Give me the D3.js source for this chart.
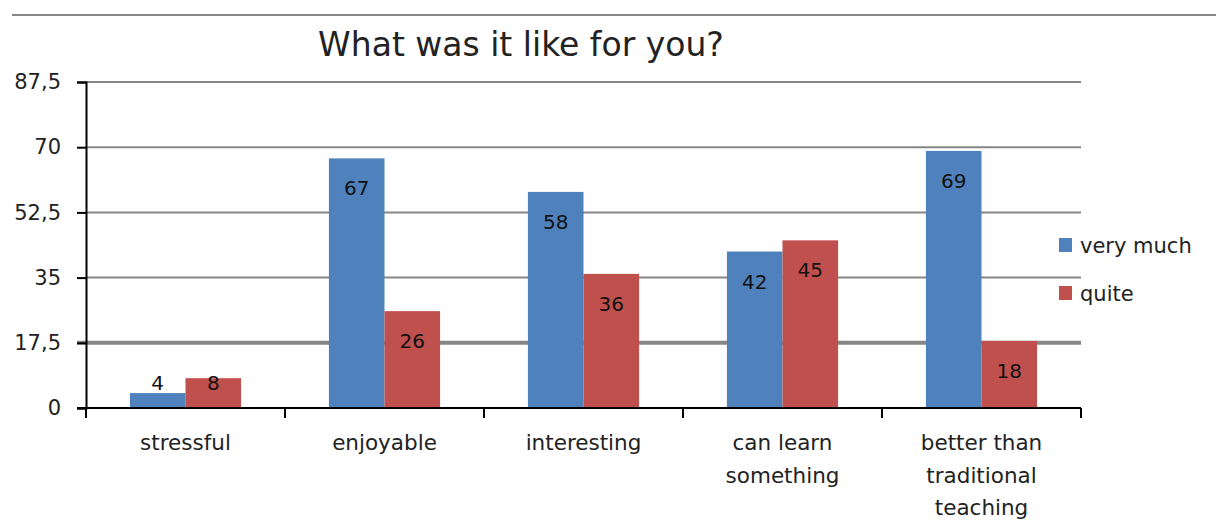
<!DOCTYPE html>
<html>
<head>
<meta charset="utf-8">
<script src="https://cdn.jsdelivr.net/npm/d3@7/dist/d3.min.js"></script>
<style>
  html, body { margin: 0; padding: 0; background: #fff; }
  svg { display: block; }
</style>
</head>
<body>
<div id="chart"></div>
<script>
// Chart data
const categories = ['stressful', 'enjoyable', 'interesting', 'can learn something', 'better than traditional teaching'];
const categoryLines = [['stressful'], ['enjoyable'], ['interesting'], ['can learn', 'something'], ['better than', 'traditional', 'teaching']];
const seriesNames = ['very much', 'quite'];
const veryMuch = [4, 67, 58, 42, 69];
const quite = [8, 26, 36, 45, 18];
const yTicks = [0, 17.5, 35, 52.5, 70, 87.5];
const yTickLabels = ['0', '17,5', '35', '52,5', '70', '87,5'];
const colors = ['#4f81bd', '#c0504d'];

const W = 1216, H = 523;
const FONT = "'DejaVu Sans', sans-serif";
const margin = { left: 86, top: 82, right: 1081, bottom: 408 };

const svg = d3.select('#chart').append('svg')
    .attr('width', W)
    .attr('height', H);

// top border line from the sheet
svg.append('line')
    .attr('x1', 12).attr('x2', W)
    .attr('y1', 15).attr('y2', 15)
    .attr('stroke', '#868686')
    .attr('stroke-width', 2);

const x = d3.scaleBand()
    .domain(categories)
    .range([margin.left, margin.right]);

// two bars take ~57% of each category band
const x1 = d3.scaleBand()
    .domain(seriesNames)
    .range([0, x.bandwidth()])
    .paddingOuter(0.79)
    .paddingInner(0);

const y = d3.scaleLinear()
    .domain([0, 87.5])
    .range([margin.bottom, margin.top]);

// gridlines
svg.append('g')
    .selectAll('line')
    .data(yTicks.filter(d => d > 0))
    .join('line')
    .attr('x1', d => d === 17.5 ? margin.left - 9 : margin.left)
    .attr('x2', margin.right)
    .attr('y1', d => y(d)).attr('y2', d => y(d))
    .attr('stroke', '#868686')
    .attr('stroke-width', d => d === 17.5 ? 4 : 2);

// y axis
const yAxis = svg.append('g')
    .attr('transform', `translate(${margin.left},0)`)
    .call(d3.axisLeft(y)
        .tickValues(yTicks)
        .tickFormat((d, i) => yTickLabels[i])
        .tickSize(9)
        .tickPadding(16));
yAxis.select('.domain').attr('stroke', '#000').attr('stroke-width', 2);
yAxis.selectAll('.tick line').attr('stroke', '#000').attr('stroke-width', 2);
yAxis.selectAll('.tick text')
    .attr('font-family', FONT)
    .attr('font-size', '21px')
    .attr('fill', '#222');

// bars
const series = [veryMuch, quite];
const groups = svg.append('g')
    .selectAll('g')
    .data(categories)
    .join('g')
    .attr('transform', d => `translate(${x(d)},0)`);

groups.selectAll('rect')
    .data((d, i) => seriesNames.map((s, k) => ({ s, k, v: series[k][i] })))
    .join('rect')
    .attr('x', d => x1(d.s))
    .attr('width', x1.bandwidth())
    .attr('y', d => y(d.v))
    .attr('height', d => y(0) - y(d.v))
    .attr('fill', d => colors[d.k]);

// data labels (inside end, kept above the axis for short bars)
groups.selectAll('text.val')
    .data((d, i) => seriesNames.map((s, k) => ({ s, k, v: series[k][i] })))
    .join('text')
    .attr('class', 'val')
    .attr('x', d => x1(d.s) + x1.bandwidth() / 2)
    .attr('y', d => Math.min(y(d.v) + 30, y(0) - 25))
    .attr('dy', '0.35em')
    .attr('text-anchor', 'middle')
    .attr('font-family', FONT)
    .attr('font-size', '20px')
    .attr('fill', '#111')
    .text(d => d.v);

// x axis
const xAxis = svg.append('g')
    .attr('transform', `translate(0,${margin.bottom})`);
xAxis.append('line')
    .attr('x1', margin.left - 9).attr('x2', margin.right)
    .attr('stroke', '#000').attr('stroke-width', 2);
const bounds = categories.map(c => x(c)).concat([margin.right]);
xAxis.selectAll('line.tk')
    .data(bounds)
    .join('line')
    .attr('class', 'tk')
    .attr('x1', d => d).attr('x2', d => d)
    .attr('y1', 0).attr('y2', 10)
    .attr('stroke', '#000').attr('stroke-width', 2);

xAxis.selectAll('text.cat')
    .data(categories)
    .join('text')
    .attr('class', 'cat')
    .attr('x', d => x(d) + x.bandwidth() / 2)
    .attr('y', 42)
    .attr('text-anchor', 'middle')
    .attr('font-family', FONT)
    .attr('font-size', '21.5px')
    .attr('fill', '#222')
    .each(function(d, i) {
        d3.select(this).selectAll('tspan')
            .data(categoryLines[i])
            .join('tspan')
            .attr('x', x(d) + x.bandwidth() / 2)
            .attr('dy', (t, j) => j === 0 ? 0 : 32.5)
            .text(t => t);
    });

// title
svg.append('text')
    .attr('x', 521)
    .attr('y', 56)
    .attr('text-anchor', 'middle')
    .attr('font-family', FONT)
    .attr('font-size', '33px')
    .attr('fill', '#222')
    .text('What was it like for you?');

// legend
const legend = svg.append('g')
    .attr('transform', 'translate(1059,238)');
seriesNames.forEach((name, i) => {
    const g = legend.append('g').attr('transform', `translate(0,${i * 48})`);
    g.append('rect').attr('width', 13).attr('height', 14).attr('fill', colors[i]);
    g.append('text')
        .attr('x', 21).attr('y', 8).attr('dy', '0.35em')
        .attr('font-family', FONT)
        .attr('font-size', '21px')
        .attr('fill', '#222')
        .text(name);
});
</script>
</body>
</html>
